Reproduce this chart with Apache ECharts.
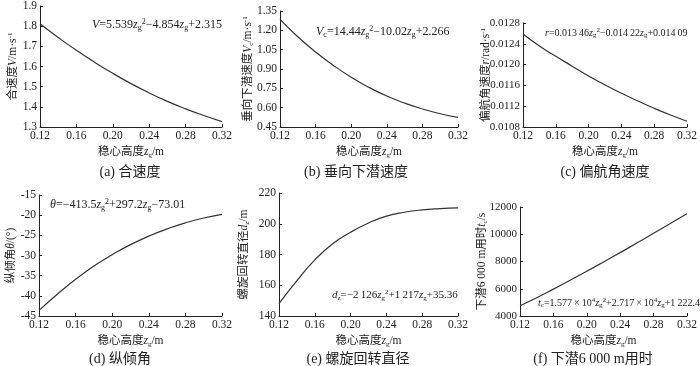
<!DOCTYPE html>
<html><head><meta charset="utf-8">
<script src="https://cdn.jsdelivr.net/npm/echarts@6/dist/echarts.min.js"></script>
<style>html,body{margin:0;padding:0;background:#fff}#c{width:700px;height:366px}</style>
</head><body><div id="c"></div>
<script>
// ---- data ----
const zg = [0.12,0.14,0.16,0.18,0.20,0.22,0.24,0.26,0.28,0.30,0.32];
const speedV = [1.812,1.744,1.680,1.621,1.566,1.515,1.469,1.427,1.390,1.357,1.327];
const diveVc = [1.285,1.150,1.032,0.928,0.836,0.757,0.690,0.635,0.590,0.553,0.524];
const yawR = [0.01259,0.01236,0.01216,0.01197,0.01178,0.01161,0.01145,0.01130,0.01116,0.01103,0.01091];
const pitch = [-43.6,-39.6,-35.9,-32.6,-29.8,-27.3,-25.2,-23.4,-21.9,-20.7,-19.8];
const turnD = [148,163,176.5,187,194.5,200.5,205,207.5,209,209.8,210.3];
const diveT = [4750,5335,5973,6624,7287,7962,8651,9352,10066,10792,11510];
const xTickLabels = ['0.12','0.16','0.20','0.24','0.28','0.32'];

const FONT = '"Liberation Serif","Noto Sans CJK SC",serif';
const C = '#222';
function mkRich(fs){
  const s = Math.round(fs*0.65);
  return {
    i:{fontStyle:'italic',fontFamily:FONT,fontSize:fs,lineHeight:fs+2,color:C,fill:C},
    sub:{fontFamily:FONT,fontSize:s,lineHeight:s+1,verticalAlign:'bottom',color:C,fill:C},
    sup:{fontFamily:FONT,fontSize:s,lineHeight:s+1,verticalAlign:'top',color:C,fill:C},
    n:{fontFamily:FONT,fontSize:fs,lineHeight:fs+2,color:C,fill:C}
  };
}
const rich = mkRich(12);
const richName = mkRich(11.5);
const rich11 = mkRich(11);
const rich10 = mkRich(10);
const TS = '\u2009';

const grids = [
  {left:40, top:6, width:182, height:121},
  {left:280, top:11, width:178, height:116},
  {left:523, top:23, width:166, height:104},
  {left:39, top:195, width:183, height:121},
  {left:279, top:193, width:179, height:123},
  {left:520, top:207, width:169, height:109}
];
const yCfg = [
  {min:1.3,max:1.9,interval:0.1,dec:1,name:'{n|合速度}{i|V}{n|/m·s}{sup|-1}',gap:20},
  {min:0.45,max:1.35,interval:0.15,dec:2,name:'{n|垂向下潜速度}{i|V}{sub|c}{n|/m·s}{sup|-1}',gap:25},
  {min:0.0108,max:0.0128,interval:0.0004,dec:4,name:'{n|偏航角速度}{i|r}{n|/rad·s}{sup|-1}',gap:30},
  {min:-45,max:-15,interval:5,dec:0,name:'{n|纵倾角}{i|θ}{n|/(°)}',gap:21},
  {min:140,max:220,interval:20,dec:0,name:'{n|螺旋回转直径}{i|d}{sub|z}{n|/m}',gap:28},
  {min:4000,max:12000,interval:2000,dec:0,name:'{n|下潜6 000 m用时}{i|t}{sub|c}{n|/s}',gap:31}
];
const seriesData = [speedV, diveVc, yawR, pitch, turnD, diveT];

const axisCommon = {
  axisLine:{show:true,lineStyle:{color:C,width:1}},
  axisTick:{show:true,inside:true,length:3,lineStyle:{color:C}},
  splitLine:{show:false},
  axisLabel:{color:C,fontFamily:FONT,fontSize:11.5}
};

const xAxis = grids.map((g,i)=>Object.assign({}, axisCommon, {
  type:'value', gridIndex:i, min:0.12, max:0.32, interval:0.04,
  axisLabel:Object.assign({}, axisCommon.axisLabel, {margin:3, formatter:v=>{const s=v.toFixed(2);return xTickLabels.indexOf(s)>=0?s:'';}}),
  name:'{n|稳心高度}{i|z}{sub|g}{n|/m}', nameLocation:'middle', nameGap:18, nameMoveOverlap:false,
  nameTextStyle:{rich:richName}
}));
const yAxis = yCfg.map((c,i)=>Object.assign({}, axisCommon, {
  type:'value', gridIndex:i, min:c.min, max:c.max, interval:c.interval,
  axisLabel:Object.assign({}, axisCommon.axisLabel, {margin:3, fontSize:(i===2||i===5)?11:11.5, formatter:v=>v.toFixed(c.dec)}),
  name:c.name, nameLocation:'middle', nameRotate:90, nameGap:c.gap, nameMoveOverlap:false,
  nameTextStyle:{rich:richName}
}));
const series = seriesData.map((d,i)=>({
  type:'line', xAxisIndex:i, yAxisIndex:i, data:zg.map((x,k)=>[x,d[k]]),
  smooth:true, showSymbol:false, symbol:'none', lineStyle:{color:'#333',width:1.2}, silent:true
}));

function txt(x,y,t,r){
  return {type:'text', x:x, y:y, silent:true, style:{text:t, rich:r||rich, align:'left', verticalAlign:'middle', fill:C}};
}
const graphic = [
  txt(92,25,'{i|V}{n|=5.539}{i|z}{sub|g}{sup|2}{n|−4.854}{i|z}{sub|g}{n|+2.315}'),
  txt(316,32,'{i|V}{sub|c}{n|=14.44}{i|z}{sub|g}{sup|2}{n|−10.02}{i|z}{sub|g}{n|+2.266}'),
  txt(545,33,'{i|r}{n|=0.013'+TS+'46}{i|z}{sub|g}{sup|2}{n|−0.014'+TS+'22}{i|z}{sub|g}{n|+0.014'+TS+'09}',rich10),
  txt(50,205,'{i|θ}{n|=−413.5}{i|z}{sub|g}{sup|2}{n|+297.2}{i|z}{sub|g}{n|−73.01}'),
  txt(332,295,'{i|d}{sub|z}{n|=−2'+TS+'126}{i|z}{sub|g}{sup|2}{n|+1'+TS+'217}{i|z}{sub|g}{n|+35.36}',rich11),
  txt(538,303,'{i|t}{sub|c}{n|=1.577'+TS+'×'+TS+'10}{sup|4}{i|z}{sub|g}{sup|2}{n|+2.717'+TS+'×'+TS+'10}{sup|4}{i|z}{sub|g}{n|+1'+TS+'222.4}',rich10),
];
const caps = [[130,172,'(a) 合速度'],[356,172,'(b) 垂向下潜速度'],[605,172,'(c) 偏航角速度'],
              [120,359,'(d) 纵倾角'],[358,359,'(e) 螺旋回转直径'],[593,359,'(f) 下潜6 000 m用时']];
caps.forEach(c=>graphic.push({type:'text',x:c[0],y:c[1],silent:true,style:{text:c[2],fontFamily:FONT,fontSize:14,fill:C,align:'center',verticalAlign:'middle'}}));

const chart = echarts.init(document.getElementById('c'), null, {renderer:'canvas'});
chart.setOption({
  animation:false, backgroundColor:'#fff',
  grid:grids, xAxis:xAxis, yAxis:yAxis, series:series, graphic:graphic
});
</script></body></html>
